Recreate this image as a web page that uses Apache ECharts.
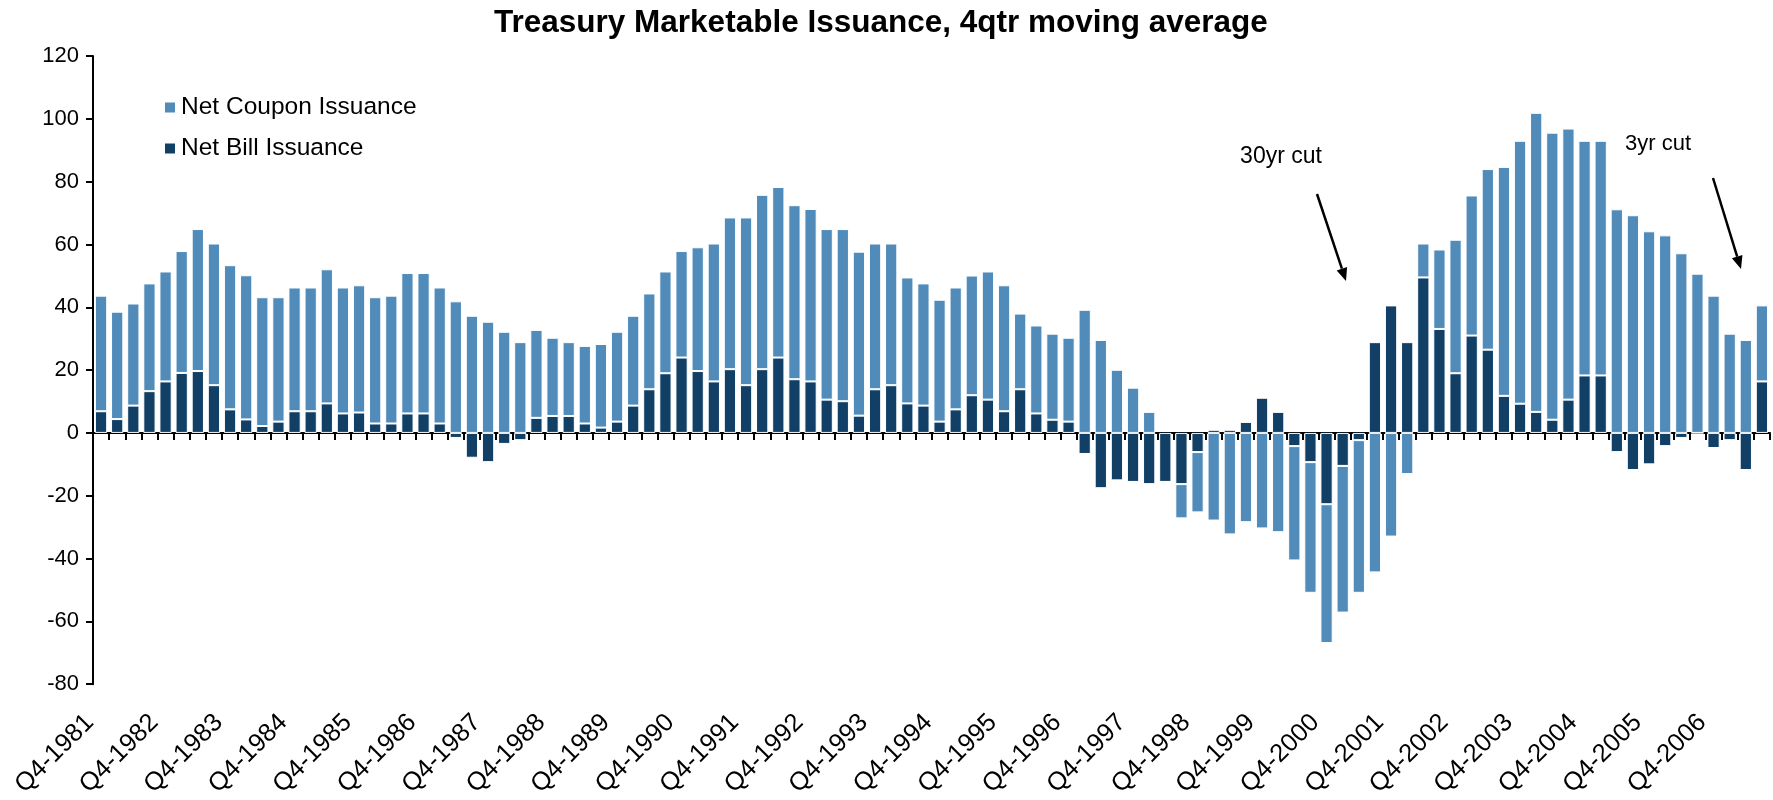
<!DOCTYPE html>
<html><head><meta charset="utf-8">
<script src="https://cdn.jsdelivr.net/npm/echarts@6/dist/echarts.min.js"></script>
<style>html,body{margin:0;padding:0;background:#fff}#c{width:1773px;height:800px}</style>
</head><body><div id="c"></div><script>
// Quarterly categories, Q4-1981 .. Q3-2007
const firstYear = 1981, firstQuarter = 4, quarterCount = 104;
const categories = [];
for (let i = 0; i < quarterCount; i++) {
  const k = firstQuarter - 1 + i;
  categories.push('Q' + (k % 4 + 1) + '-' + (firstYear + Math.floor(k / 4)));
}
// Net Bill Issuance (4qtr moving average)
const billIssuance = [
  6.9, 4.4, 8.7, 13.3, 16.4, 19.1, 19.7, 15.2, 7.5, 4.3,
  2.2, 3.6, 6.9, 6.9, 9.4, 6.2, 6.5, 3.0, 3.0, 6.2,
  6.2, 3.0, -1.6, -7.9, -9.3, -3.5, -2.3, 4.8, 5.4, 5.4,
  3.0, 1.7, 3.6, 8.7, 13.9, 19.0, 24.0, 19.7, 16.4, 20.3,
  15.2, 20.3, 24.0, 17.1, 16.4, 10.6, 10.1, 5.5, 13.9, 15.2,
  9.4, 8.7, 3.6, 7.5, 12.0, 10.6, 6.9, 13.9, 6.2, 4.2,
  3.6, -6.7, -17.6, -15.1, -15.6, -16.3, -15.6, -16.3, -6.1, 1.0,
  1.0, 3.5, 11.2, 6.7, -4.2, -9.3, -22.7, -10.5, -2.3, 28.9,
  40.6, 28.9, 49.5, 33.1, 19.0, 31.0, 26.5, 11.8, 9.3, 6.7,
  4.2, 10.6, 18.3, 18.3, -6.1, -11.8, -10.0, -4.2, -1.6, 0,
  -4.8, -2.3, -11.8, 16.4
];
// Net Coupon Issuance (4qtr moving average)
const couponIssuance = [
  36.8, 34.2, 32.5, 34.3, 35.0, 38.8, 45.2, 45.1, 45.9, 45.9,
  41.0, 39.6, 39.4, 39.4, 42.7, 40.1, 40.5, 40.2, 40.7, 44.7,
  44.7, 43.3, 41.9, 37.3, 35.4, 32.2, 28.9, 28.0, 24.9, 23.5,
  24.7, 26.6, 28.6, 28.6, 30.5, 32.4, 33.9, 39.4, 43.9, 48.3,
  53.4, 55.5, 54.3, 55.4, 54.9, 54.3, 54.8, 52.2, 46.4, 45.1,
  40.1, 38.9, 38.8, 38.8, 38.1, 40.8, 40.1, 24.1, 28.0, 27.4,
  26.7, 39.2, 29.6, 20.1, 14.4, 6.7, 0, -10.9, -19.2, -27.9,
  -32.3, -28.4, -30.4, -31.6, -36.4, -41.6, -44.2, -46.7, -48.6, -44.4,
  -33.0, -13.1, 10.8, 25.3, 42.5, 44.6, 57.5, 72.9, 83.7, 95.2,
  91.4, 86.3, 74.7, 74.7, 71.2, 69.3, 64.2, 62.9, 57.2, 50.7,
  43.7, 31.6, 29.6, 24.2
];
const yMin = -80, yMax = 120, yStep = 20;
const titleText = 'Treasury Marketable Issuance, 4qtr moving average';
const annotations = [
  { text: '30yr cut', size: 23, tx: 1281, ty: 157, from: [1317, 194], to: [1346, 281] },
  { text: '3yr cut', size: 22, tx: 1658, ty: 144, from: [1713, 178], to: [1741, 269] }
];

const LIGHT = '#508BBA', DARK = '#113F66';
const FONT = "'Liberation Sans', Arial, sans-serif";

function arrowGraphics(a) {
  const [x1, y1] = a.from, [x2, y2] = a.to;
  const dx = x2 - x1, dy = y2 - y1, len = Math.hypot(dx, dy);
  const ux = dx / len, uy = dy / len, hl = 13, hw = 5.5;
  const bx = x2 - ux * hl, by = y2 - uy * hl;
  return [
    { type: 'text', style: { text: a.text, x: a.tx, y: a.ty, align: 'center', verticalAlign: 'middle',
        font: a.size + 'px ' + FONT, fill: '#000' } },
    { type: 'line', shape: { x1: x1, y1: y1, x2: bx, y2: by }, style: { stroke: '#000', lineWidth: 2.5 } },
    { type: 'polygon', shape: { points: [[x2, y2], [bx - uy * hw, by + ux * hw], [bx + uy * hw, by - ux * hw]] },
      style: { fill: '#000' } }
  ];
}

const chart = echarts.init(document.getElementById('c'), null, { renderer: 'canvas' });
const gfx = [];
annotations.forEach(a => gfx.push(...arrowGraphics(a)));

chart.setOption({
  animation: false,
  backgroundColor: '#fff',
  title: { text: titleText, left: 489, top: 2,
    textStyle: { fontFamily: FONT, fontWeight: 'bold', fontSize: 31.5, color: '#000' } },
  legend: {
    data: ['Net Coupon Issuance', 'Net Bill Issuance'],
    orient: 'vertical', left: 158, top: 89, icon: 'rect', itemWidth: 12, itemHeight: 12,
    itemGap: 14, textStyle: { fontFamily: FONT, fontSize: 24.5, color: '#000', lineHeight: 27 }
  },
  grid: { left: 93, right: 3, top: 56, bottom: 114, containLabel: false },
  xAxis: [
    { type: 'category', data: categories, boundaryGap: true,
      axisLine: { onZero: true, lineStyle: { color: '#000', width: 2 } },
      axisTick: { show: true, interval: 0, length: 7, lineStyle: { color: '#000', width: 2 } },
      axisLabel: { show: false }, splitLine: { show: false } },
    { type: 'category', data: categories, position: 'bottom', boundaryGap: true,
      axisLine: { show: false, onZero: false }, axisTick: { show: false },
      axisLabel: { interval: 3, rotate: 45, margin: 23, padding: [0, 16, 0, 0],
        fontFamily: FONT, fontSize: 25.5, color: '#000' } }
  ],
  yAxis: {
    type: 'value', min: yMin, max: yMax, interval: yStep,
    axisLine: { show: true, lineStyle: { color: '#000', width: 2 } },
    axisTick: { show: true, length: 7, lineStyle: { color: '#000', width: 2 } },
    splitLine: { show: false },
    axisLabel: { margin: 14, fontFamily: FONT, fontSize: 22, color: '#000' }
  },
  series: [
    { name: 'Net Bill Issuance', type: 'bar', stack: 'iss', data: billIssuance, barCategoryGap: '24%',
      itemStyle: { color: DARK, borderColor: '#fff', borderWidth: 1 } },
    { name: 'Net Coupon Issuance', type: 'bar', stack: 'iss', data: couponIssuance, barCategoryGap: '24%',
      itemStyle: { color: LIGHT, borderColor: '#fff', borderWidth: 1 } }
  ],
  graphic: gfx
});
</script></body></html>
